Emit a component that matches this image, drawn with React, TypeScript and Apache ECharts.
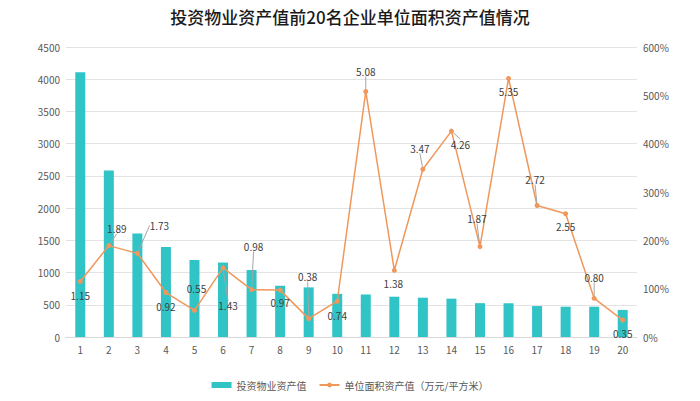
import React, { useEffect, useRef } from "react";
import * as echarts from "echarts";

const categories = ["1","2","3","4","5","6","7","8","9","10","11","12","13","14","15","16","17","18","19","20"];
const assetValues = [4110, 2585, 1605, 1395, 1195, 1155, 1040, 795, 770, 670, 660, 625, 610, 595, 525, 525, 480, 470, 470, 420];
const unitValues = [1.15, 1.89, 1.73, 0.92, 0.55, 1.43, 0.98, 0.97, 0.38, 0.74, 5.08, 1.38, 3.47, 4.26, 1.87, 5.35, 2.72, 2.55, 0.80, 0.35];
const barName = "投资物业资产值";
const lineName = "单位面积资产值（万元/平方米）";

// label offsets (layout only)
const labelOffsets: [number, number][] = [
  [0, 14], [8, -17], [22, -28], [0, 14], [2, -22], [5, 38], [2, -43], [0, 12], [-1, -42], [0, 14],
  [0, -20], [-1, 13], [-3, -21], [9, 13], [-3, -28], [0, 13], [-2, -26], [0, 13], [0, -21], [0, 13],
];
const leaderShown = [false, true, true, false, false, true, true, false, true, false, true, false, true, true, true, false, true, false, true, false];

export default function App() {
  const ref = useRef<HTMLDivElement>(null);
  useEffect(() => {
    if (!ref.current) return;
    const chart = echarts.init(ref.current, null, { renderer: "svg" });
    const font = "'Noto Sans CJK SC', 'Noto Sans', sans-serif";
    chart.setOption({
      animation: false,
      textStyle: { fontFamily: font },
      title: {
        text: "投资物业资产值前20名企业单位面积资产值情况",
        left: "center",
        top: 3,
        textStyle: { fontSize: 17, fontWeight: 500, color: "#1a1a1a", fontFamily: font },
      },
      legend: {
        bottom: 6,
        left: "center",
        itemWidth: 20,
        itemHeight: 6,
        itemGap: 12,
        textStyle: { fontSize: 10, color: "#595959" },
        data: [
          { name: barName, icon: "rect" },
          { name: lineName },
        ],
      },
      grid: { left: 66, right: 63, top: 47, bottom: 64 },
      xAxis: {
        type: "category",
        data: categories,
        axisLine: { show: true, lineStyle: { color: "#d9d9d9" } },
        axisTick: { show: false },
        axisLabel: { color: "#595959", fontSize: 10, margin: 7 },
      },
      yAxis: [
        {
          type: "value",
          min: 0,
          max: 4500,
          interval: 500,
          axisLine: { show: false },
          axisTick: { show: false },
          axisLabel: { color: "#595959", fontSize: 10, margin: 6, formatter: (v: number) => String(v) },
          splitLine: { lineStyle: { color: "#e3e3e3" } },
        },
        {
          type: "value",
          min: 0,
          max: 6,
          interval: 1,
          axisLine: { show: false },
          axisTick: { show: false },
          axisLabel: {
            color: "#595959",
            fontSize: 10,
            margin: 6,
            formatter: (v: number) => Math.round(v * 100) + "%",
          },
          splitLine: { show: false },
        },
      ],
      series: [
        {
          name: barName,
          type: "bar",
          data: assetValues,
          barWidth: 10,
          itemStyle: { color: "#31C4C6" },
        },
        {
          name: lineName,
          type: "line",
          yAxisIndex: 1,
          data: unitValues.map((v, i) => ({
            value: v,
            labelLine: { show: leaderShown[i] },
          })),
          symbol: "circle",
          symbolSize: 5,
          lineStyle: { color: "#F0975B", width: 1.5 },
          itemStyle: { color: "#F0975B" },
          label: {
            show: true,
            position: "inside",
            color: "#404040",
            fontSize: 10,
            formatter: (p: any) => Number(p.value).toFixed(2),
          },
          labelLine: { show: false, lineStyle: { color: "#a6a6a6", width: 1 } },
          labelLayout: (p: any) => {
            const o = labelOffsets[p.dataIndex] || [0, 0];
            return { dx: o[0], dy: o[1] };
          },
          z: 3,
        },
      ],
    });
    return () => chart.dispose();
  }, []);
  return <div ref={ref} style={{ position: "absolute", left: 0, top: 0, width: 700, height: 401 }} />;
}
